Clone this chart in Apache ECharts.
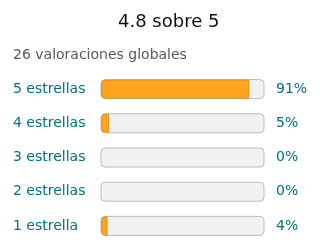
<!DOCTYPE html>
<html>
<head>
<meta charset="utf-8">
<script src="https://cdn.jsdelivr.net/npm/echarts@6/dist/echarts.min.js"></script>
<style>
  html, body { margin: 0; padding: 0; background: #fff; }
  #chart { width: 320px; height: 252px; }
</style>
</head>
<body>
<div id="chart"></div>
<script>
// datos del gráfico
const categorias = ["5 estrellas", "4 estrellas", "3 estrellas", "2 estrellas", "1 estrella"];
const porcentajes = [91, 5, 0, 0, 4];
const titulo = "4.8 sobre 5";
const subtitulo = "26 valoraciones globales";

const chart = echarts.init(document.getElementById("chart"));
const fuente = "DejaVu Sans";
const teal = "#007185";

chart.setOption({
  animation: false,
  textStyle: { fontFamily: fuente },
  title: [
    {
      text: titulo,
      left: 113,
      top: 8,
      textStyle: { fontSize: 18, fontWeight: "normal", color: "#0F1111", fontFamily: fuente }
    },
    {
      text: subtitulo,
      left: 8,
      top: 43,
      textStyle: { fontSize: 14, fontWeight: "normal", color: "#565959", fontFamily: fuente }
    }
  ],
  grid: { left: 101, right: 56, top: 72, bottom: 9 },
  xAxis: { type: "value", min: 0, max: 100, show: false },
  yAxis: [
    {
      type: "category",
      inverse: true,
      data: categorias,
      axisLine: { show: false },
      axisTick: { show: false },
      axisLabel: { align: "left", margin: 88, fontSize: 14, color: teal, fontFamily: fuente }
    },
    {
      type: "category",
      inverse: true,
      position: "right",
      data: porcentajes.map(v => v + "%"),
      axisLine: { show: false },
      axisTick: { show: false },
      axisLabel: { align: "left", margin: 12, fontSize: 14, color: teal, fontFamily: fuente }
    }
  ],
  series: [
    {
      type: "bar",
      // las barras con 0% no llevan borde naranja
      data: porcentajes.map(v => v === 0 ? { value: v, itemStyle: { borderWidth: 0, opacity: 0 } } : v),
      barWidth: 19,
      showBackground: true,
      backgroundStyle: {
        color: "#F0F2F2",
        borderColor: "#B8BDBD",
        borderWidth: 1,
        borderRadius: 4
      },
      itemStyle: {
        color: "#FFA41C",
        borderColor: "#E88E12",
        borderWidth: 1,
        borderRadius: [4, 0, 0, 4]
      }
    }
  ]
});
</script>
</body>
</html>
